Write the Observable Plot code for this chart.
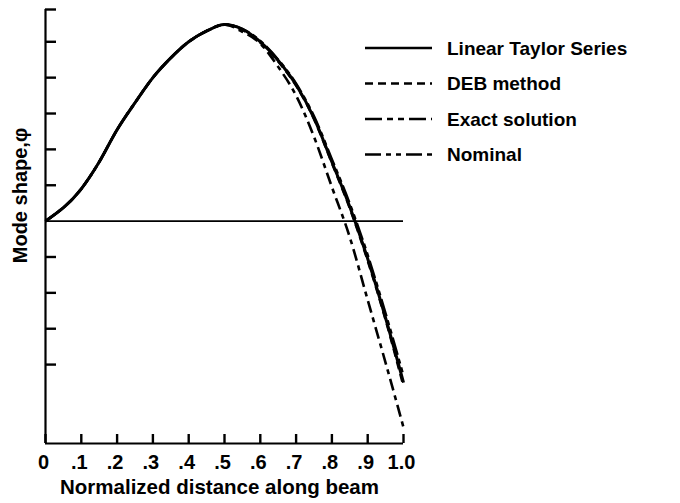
<!DOCTYPE html>
<html>
<head>
<meta charset="utf-8">
<script src="https://cdn.jsdelivr.net/npm/d3@7"></script>
<script src="https://cdn.jsdelivr.net/npm/@observablehq/plot@0.6"></script>
<style>
  html, body { margin: 0; padding: 0; background: #fff; }
  #chart { position: relative; width: 680px; height: 503px; }
  #chart svg { font-family: "Liberation Sans", Arial, Helvetica, sans-serif; }
  #legend { position: absolute; left: 0; top: 0; }
</style>
</head>
<body>
<div id="chart"></div>
<script>
// Normalized position along the beam
const xs = [0, 0.1, 0.15, 0.2, 0.25, 0.3, 0.35, 0.4, 0.45, 0.5, 0.55, 0.6, 0.65, 0.7, 0.75, 0.8, 0.85, 0.9, 0.95, 1.0];

// Mode shape for each method
const linearTaylor = [0, 0.9, 1.65, 2.55, 3.3, 4.0, 4.55, 5.0, 5.3, 5.48, 5.35, 5.0, 4.48, 3.8, 2.87, 1.65, 0.4, -1.05, -2.7, -4.5];
const debMethod    = [0, 0.9, 1.65, 2.55, 3.3, 4.0, 4.55, 5.0, 5.3, 5.48, 5.33, 4.98, 4.45, 3.78, 2.85, 1.62, 0.36, -1.1, -2.75, -4.6];
const exactSol     = [0, 0.9, 1.65, 2.55, 3.3, 4.0, 4.55, 5.0, 5.3, 5.48, 5.36, 5.02, 4.5, 3.83, 2.92, 1.72, 0.48, -0.95, -2.58, -4.32];
const nominal      = [0, 0.9, 1.65, 2.55, 3.3, 4.0, 4.55, 5.0, 5.3, 5.48, 5.28, 4.95, 4.3, 3.5, 2.35, 0.95, -0.45, -2.2, -3.95, -5.75];

const seriesNames = ["Linear Taylor Series", "DEB method", "Exact solution", "Nominal"];
const seriesValues = [linearTaylor, debMethod, exactSol, nominal];
const seriesDash = [null, "8,5", "18,4,5,4,5,4", "12,5,5,5"];
const legendDash = [null, "8,5", "17,5,6,5,6,5", "16,5,5,5,5,5"];

// Axes
const xDomain = [0, 1.0];
const yDomain = [-6.2, 5.9];
const xTicks = [0, 0.1, 0.2, 0.3, 0.4, 0.5, 0.6, 0.7, 0.8, 0.9, 1.0];
const xTickLabels = ["0", ".1", ".2", ".3", ".4", ".5", ".6", ".7", ".8", ".9", "1.0"];
const yTicks = [5.9, 5, 4, 3, 2, 1, -1, -2, -3, -4];

const rows = seriesNames.flatMap((name, i) =>
  xs.map((x, j) => ({series: name, x, y: seriesValues[i][j]}))
);

const font = `"Liberation Sans", Arial, Helvetica, sans-serif`;

const plot = Plot.plot({
  width: 680,
  height: 503,
  marginLeft: 45,
  marginRight: 277,
  marginTop: 9,
  marginBottom: 60,
  style: {fontFamily: font, background: "#fff", color: "#000"},
  x: {domain: xDomain},
  y: {domain: yDomain},
  marks: [
    // frame lines: left and bottom axis
    Plot.ruleX([xDomain[0]], {stroke: "#000", strokeWidth: 2.2}),
    Plot.ruleY([yDomain[0]], {stroke: "#000", strokeWidth: 2.2}),
    // zero reference line
    Plot.ruleY([0], {stroke: "#000", strokeWidth: 1.8}),
    // inward ticks
    Plot.axisY({anchor: "left", ticks: yTicks, tickSize: -11, tickFormat: () => "", strokeWidth: 2.4, label: null}),
    Plot.axisX({anchor: "bottom", ticks: xTicks, tickSize: -9, tickFormat: () => "", strokeWidth: 2.4, label: null}),
    // tick labels
    Plot.axisX({anchor: "bottom", ticks: xTicks, tickSize: 0, tickPadding: 11,
      tickFormat: (d) => xTickLabels[xTicks.indexOf(d)], fontSize: 20, fontWeight: "bold", dx: -2, label: null}),
    // axis titles
    Plot.text(["Normalized distance along beam"], {
      frameAnchor: "bottom", dy: 50, dx: -5, fontSize: 20.5, fontWeight: "bold", fill: "#000"
    }),
    Plot.text(["Mode shape,\u03c6"], {
      frameAnchor: "left", textAnchor: "middle", lineAnchor: "middle",
      dx: -25, dy: -31, rotate: -90, fontSize: 20, fontWeight: "bold", fill: "#000"
    }),
    // mode shape curves
    ...seriesNames.map((name, i) =>
      Plot.line(rows.filter(d => d.series === name), {
        x: "x", y: "y", curve: "monotone-x",
        stroke: "#000", strokeWidth: i === 0 ? 3 : 2.6,
        strokeDasharray: seriesDash[i], strokeLinecap: "butt"
      })
    )
  ]
});

const chart = document.getElementById("chart");
chart.appendChild(plot);

// Legend drawn over the right-hand side of the plot
const legend = d3.select(chart).append("svg")
  .attr("id", "legend")
  .attr("width", 680).attr("height", 503)
  .style("font-family", font);

const lg = legend.selectAll("g").data(seriesNames).join("g")
  .attr("transform", (d, i) => `translate(365, ${48 + i * 35.5})`);
lg.append("line")
  .attr("x1", 0).attr("x2", 67).attr("y1", 0).attr("y2", 0)
  .attr("stroke", "#000").attr("stroke-width", (d, i) => i === 0 ? 2.6 : 2.4)
  .attr("stroke-dasharray", (d, i) => legendDash[i]);
lg.append("text")
  .attr("x", 82).attr("y", 0).attr("dy", "0.35em")
  .attr("font-size", 19).attr("font-weight", "bold").attr("fill", "#000")
  .text(d => d);
</script>
</body>
</html>
